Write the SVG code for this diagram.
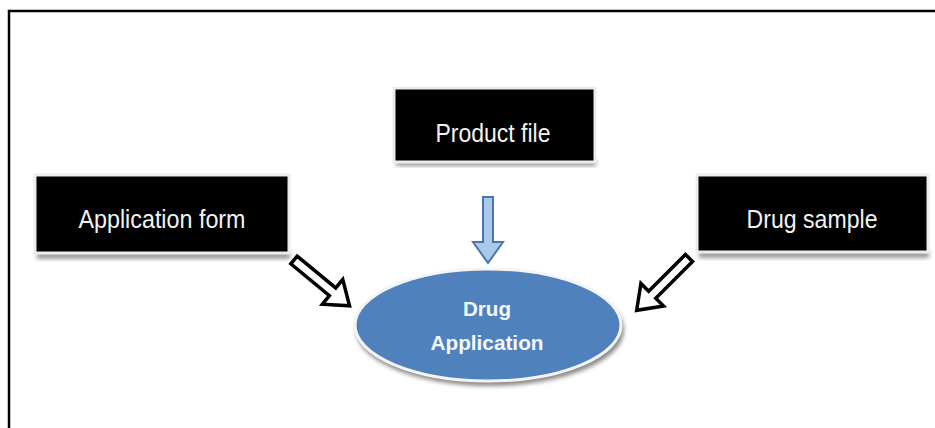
<svg xmlns="http://www.w3.org/2000/svg" width="935" height="428" viewBox="0 0 935 428">
  <style>
    .box { fill: #000; stroke: #ececec; stroke-width: 3; }
    .shadow { fill: #9a9a9a; filter: url(#blur); }
    .lbl { font-family: "Liberation Sans", Arial, sans-serif; font-size: 25px; fill: #f2f2f2; text-anchor: middle; }
    .elbl { font-family: "Liberation Sans", Arial, sans-serif; font-size: 21px; font-weight: bold; fill: #f4f8fc; text-anchor: middle; }
    .outarrow { fill: #fff; stroke: #000; stroke-width: 3.5; stroke-linejoin: miter; }
    .bluearrow { fill: #a9c8ea; stroke: #4a76b0; stroke-width: 2; }
  </style>
  <defs>
    <filter id="blur" x="-10%" y="-30%" width="120%" height="160%">
      <feGaussianBlur stdDeviation="2"/>
    </filter>
  </defs>
  <rect width="935" height="428" fill="#fff"/>
  <path d="M9 428 V11 H935" fill="none" stroke="#000" stroke-width="2.5"/>

  <g id="node-product-file">
    <rect class="shadow" x="396" y="160" width="200" height="6"/>
    <rect class="box" x="394" y="88" width="201" height="74"/>
    <text class="lbl" x="493" y="142" textLength="115" lengthAdjust="spacingAndGlyphs">Product file</text>
  </g>
  <g id="node-application-form">
    <rect class="shadow" x="37" y="252" width="253" height="7"/>
    <rect class="box" x="35" y="175" width="254" height="78"/>
    <text class="lbl" x="162" y="228" textLength="167" lengthAdjust="spacingAndGlyphs">Application form</text>
  </g>
  <g id="node-drug-sample">
    <rect class="shadow" x="699" y="251" width="230" height="7"/>
    <rect class="box" x="697" y="175" width="231" height="77"/>
    <text class="lbl" x="812" y="228" textLength="131" lengthAdjust="spacingAndGlyphs">Drug sample</text>
  </g>
  <g id="node-drug-application">
    <ellipse cx="490" cy="330" rx="134" ry="56" fill="#8a8a8a" filter="url(#blur)"/>
    <ellipse cx="488" cy="325" rx="133" ry="56" fill="#4f81bd" stroke="#f4f4f4" stroke-width="3"/>
    <text class="elbl" x="487" y="316" textLength="48" lengthAdjust="spacingAndGlyphs">Drug</text>
    <text class="elbl" x="487" y="350" textLength="113" lengthAdjust="spacingAndGlyphs">Application</text>
  </g>

  <g id="connectors">
    <polygon class="bluearrow" points="483,197 493,197 493,242 503,242 488,263 473,242 483,242"/>
    <g transform="translate(294,260) rotate(39.5)">
      <polygon class="outarrow" points="0,-5 50,-5 50,-16 72,0 50,16 50,5 0,5"/>
    </g>
    <g transform="translate(689,258) rotate(135)">
      <polygon class="outarrow" points="0,-5 52,-5 52,-16 74,0 52,16 52,5 0,5"/>
    </g>
  </g>
</svg>
